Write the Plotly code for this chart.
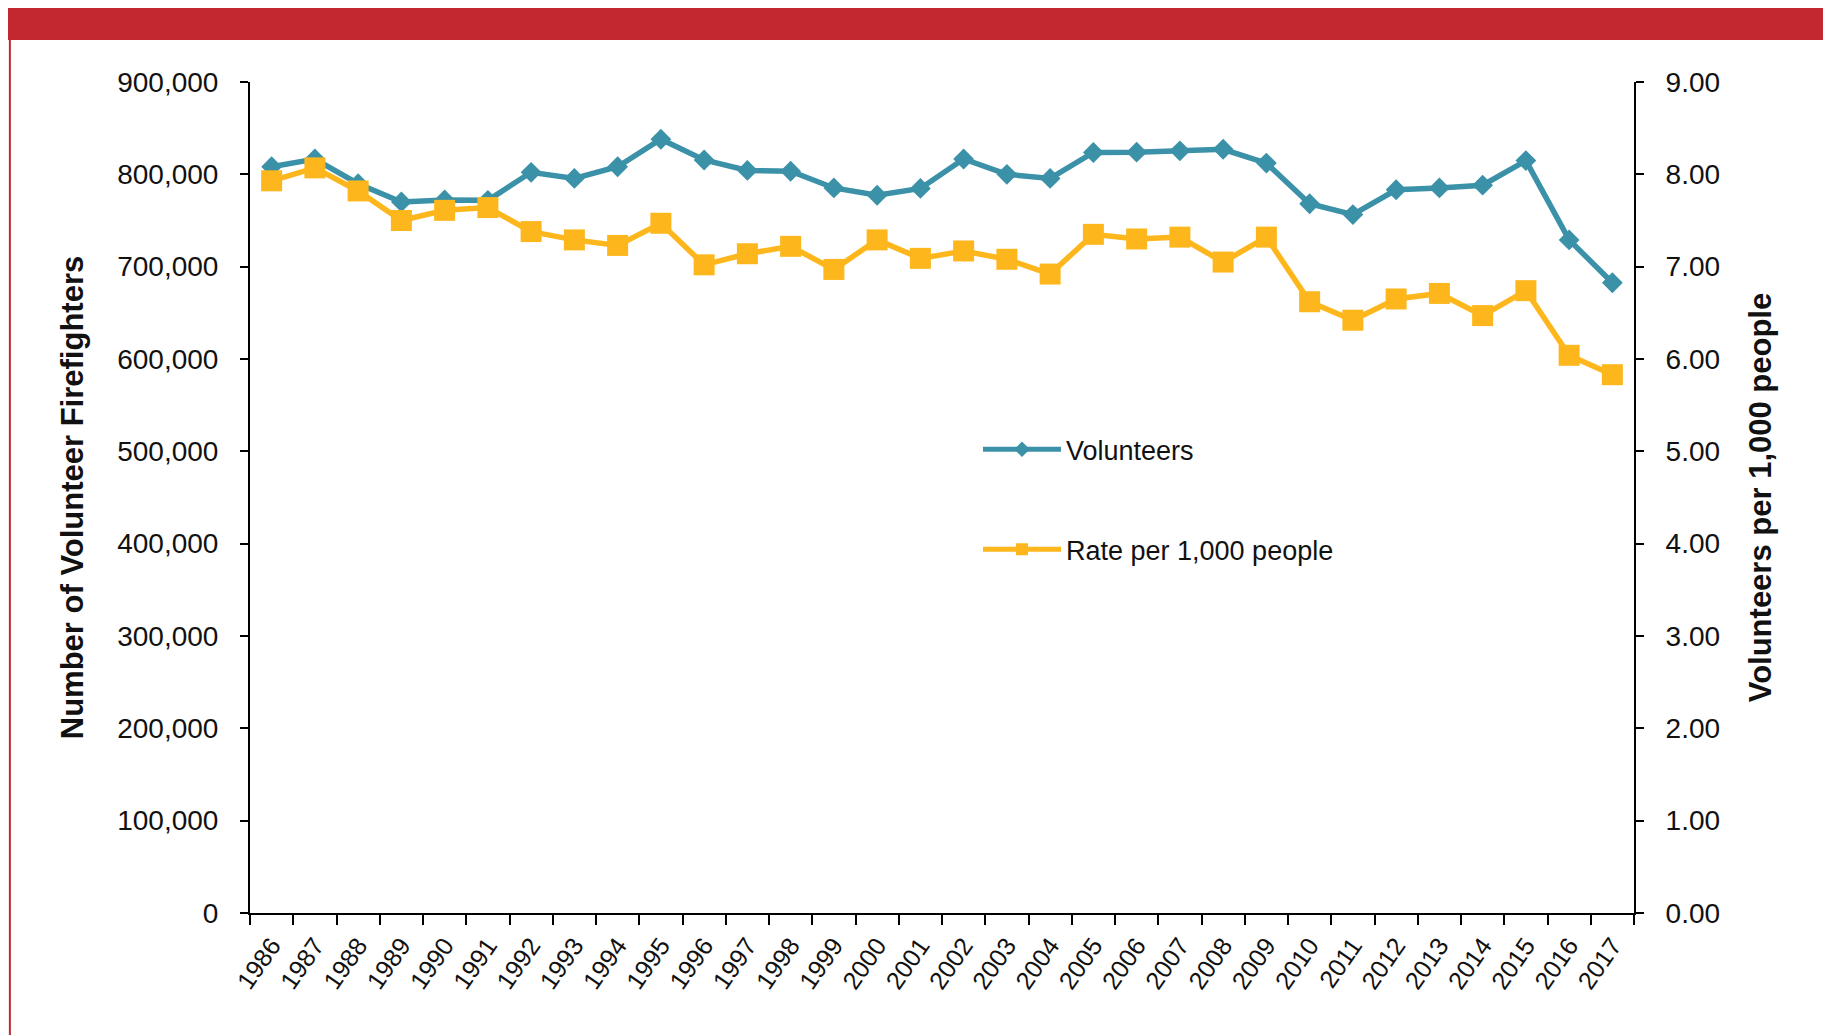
import plotly.graph_objects as go

years = [str(y) for y in range(1986, 2018)]

volunteers = [808200, 816600, 789900, 770100, 772300, 771800, 802200, 795600,
              808200, 838000, 815500, 804200, 803350, 785250, 777350, 784700,
              816600, 800050, 795600, 823650, 823950, 825450, 827150, 812150,
              768150, 756400, 783300, 785250, 788250, 814850, 729000, 682600]

rate_per_1000 = [7.93, 8.07, 7.82, 7.50, 7.61, 7.64, 7.38, 7.29,
                 7.23, 7.47, 7.02, 7.14, 7.22, 6.97, 7.29, 7.09,
                 7.17, 7.08, 6.92, 7.35, 7.30, 7.32, 7.05, 7.32,
                 6.62, 6.42, 6.65, 6.71, 6.47, 6.74, 6.04, 5.83]

TEAL = '#3b91a8'
GOLD = '#fdb71c'
RED = '#c1292e'
FONT = 'Liberation Sans, Arial, sans-serif'

fig = go.Figure()

fig.add_trace(go.Scatter(
    x=years, y=volunteers, name='Volunteers', legendgroup='a',
    mode='lines+markers',
    line=dict(color=TEAL, width=5.5),
    marker=dict(symbol='diamond', size=16, color=TEAL),
))

fig.add_trace(go.Scatter(
    x=years, y=rate_per_1000, name='Rate per 1,000 people', legendgroup='b',
    mode='lines+markers', yaxis='y2',
    line=dict(color=GOLD, width=5.5),
    marker=dict(symbol='square', size=21, color=GOLD),
))

# frame: red band on top and thin red borders
# (page body adds an 8px margin, so the figure is shifted by that much)
fig.add_shape(type='rect', xref='paper', yref='paper',
              x0=-0.18, x1=1.15, y0=1.0505, y1=1.09,
              fillcolor=RED, line_width=0, layer='below')
for xp in (-0.1735, 1.1392):
    fig.add_shape(type='line', xref='paper', yref='paper',
                  x0=xp, x1=xp, y0=-0.2, y1=1.0505,
                  line=dict(color=RED, width=2))

fig.update_layout(
    width=1831, height=1035,
    margin=dict(l=242, r=205, t=74, b=130),
    paper_bgcolor='white', plot_bgcolor='white',
    font=dict(family=FONT, size=28, color='#111'),
    showlegend=True,
    legend=dict(x=0.526, y=0.587, xanchor='left', yanchor='top',
                traceorder='grouped', tracegroupgap=62,
                itemwidth=78, itemsizing='constant',
                bgcolor='rgba(0,0,0,0)', font=dict(size=27)),
    xaxis=dict(
        type='category', tickson='boundaries', range=[-0.5, 31.5],
        ticks='outside', ticklen=10, tickwidth=2, tickcolor='black',
        showline=True, linecolor='black', linewidth=2,
        showgrid=False, tickangle=-55, ticklabelstandoff=6,
        tickfont=dict(size=25), automargin=False,
    ),
    yaxis=dict(
        range=[0, 900000], dtick=100000, tickformat=',',
        ticks='outside', ticklen=8, tickwidth=2, tickcolor='black',
        showline=True, linecolor='black', linewidth=2,
        showgrid=False, zeroline=False, ticklabelstandoff=16,
        automargin=False,
        title=dict(text='<b>Number of Volunteer Firefighters</b>',
                   standoff=24, font=dict(size=31)),
    ),
    yaxis2=dict(
        range=[0, 9], dtick=1, tickformat='.2f',
        overlaying='y', side='right',
        ticks='outside', ticklen=8, tickwidth=2, tickcolor='black',
        showline=True, linecolor='black', linewidth=2,
        showgrid=False, zeroline=False, ticklabelstandoff=16,
        automargin=False,
        title=dict(text='<b>Volunteers per 1,000 people</b>',
                   standoff=30, font=dict(size=31)),
    ),
)

fig.write_html('out.html')
